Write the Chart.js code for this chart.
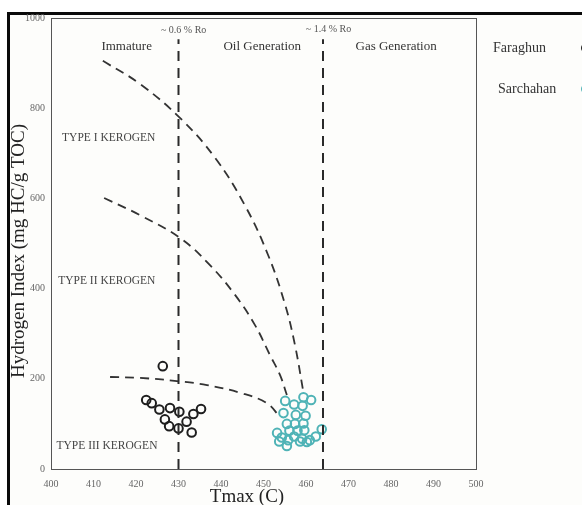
<!DOCTYPE html>
<html>
<head>
<meta charset="utf-8">
<script src="https://cdn.jsdelivr.net/npm/chart.js@4"></script>
<style>
  html, body { margin: 0; padding: 0; background: #ffffff; }
  #wrap { width: 582px; height: 505px; position: relative; }
  canvas { display: block; }
</style>
</head>
<body>
<div id="wrap"><canvas id="c" width="582" height="505"></canvas></div>
<script>
// ---- data ----
const seriesNames = ['Faraghun', 'Sarchahan'];
const faraghunTmax = [426.3, 422.4, 423.7, 425.5, 428.0, 430.2, 433.5, 435.3, 426.8, 427.8, 430.0, 431.9, 433.1];
const faraghunHI   = [228, 153, 146, 132, 135, 127, 122, 133, 110, 95, 90, 105, 81];
const sarchahanTmax = [455.1, 457.2, 459.4, 461.2, 459.2, 454.7, 457.6, 459.9, 455.5, 457.4, 459.4, 453.2, 456.1,
                       458.0, 459.6, 463.7, 454.3, 457.2, 459.1, 460.9, 462.3, 453.7, 455.5, 458.6, 460.2, 455.8];
const sarchahanHI   = [151, 143, 159, 153, 140, 124, 120, 118, 100, 100, 101, 80, 85,
                       85, 86, 88, 70, 72, 67, 64, 72, 61, 51, 61, 60, 64];

const typeITmax   = [412.2, 420.9, 430.4, 438.6, 445.6, 451.1, 455.1, 457.4, 459.3];
const typeIHI     = [905, 854, 778, 690, 585, 474, 364, 275, 175];
const typeIITmax  = [412.5, 420.9, 430.4, 437.4, 443.3, 448.0, 451.5, 453.9, 455.5];
const typeIIHI    = [601, 563, 512, 452, 386, 319, 253, 208, 164];
const typeIIITmax = [413.9, 420.9, 429.6, 436.7, 444.5, 450.8, 453.9];
const typeIIIHI   = [204, 202, 195, 186, 169, 146, 115];

const roTmax   = [430, 464];
const roLabels = ['~ 0.6 % Ro', '~ 1.4 % Ro'];
const zoneLabels = ['Immature', 'Oil Generation', 'Gas Generation'];
const kerogenLabels = ['TYPE I KEROGEN', 'TYPE II KEROGEN', 'TYPE III KEROGEN'];
const xTitle = 'Tmax (C)';
const yTitle = 'Hydrogen Index (mg HC/g TOC)';

// ---- helpers ----
const pts = (xs, ys) => xs.map((x, i) => ({ x: x, y: ys[i] }));
const SERIF = '"Liberation Serif", "DejaVu Serif", serif';
const dashStyle = { showLine: true, borderColor: '#333333', borderWidth: 1.8, borderDash: [9, 6],
                    pointRadius: 0, pointHoverRadius: 0, tension: 0.4, fill: false };

const datasets = [];
roTmax.forEach(function (t) {
  datasets.push(Object.assign({}, dashStyle, {
    label: 'ro', data: [{ x: t, y: 0 }, { x: t, y: 953 }], tension: 0,
    borderColor: '#2a2a2a', borderWidth: 2, borderDash: [10, 7]
  }));
});
datasets.push(Object.assign({}, dashStyle, { label: 'typeI', data: pts(typeITmax, typeIHI) }));
datasets.push(Object.assign({}, dashStyle, { label: 'typeII', data: pts(typeIITmax, typeIIHI) }));
datasets.push(Object.assign({}, dashStyle, { label: 'typeIII', data: pts(typeIIITmax, typeIIIHI) }));
datasets.push({ label: seriesNames[0], data: pts(faraghunTmax, faraghunHI), showLine: false,
  pointStyle: 'circle', pointRadius: 4.3, borderWidth: 2, borderColor: '#1e1e1e', backgroundColor: 'rgba(0,0,0,0)' });
datasets.push({ label: seriesNames[1], data: pts(sarchahanTmax, sarchahanHI), showLine: false,
  pointStyle: 'circle', pointRadius: 4.3, borderWidth: 2, borderColor: '#4fb3b6', backgroundColor: 'rgba(0,0,0,0)' });

const decor = {
  id: 'decor',
  beforeDraw(chart) {
    const ctx = chart.ctx;
    ctx.save();
    ctx.fillStyle = '#ffffff';
    ctx.fillRect(0, 0, chart.width, chart.height);
    ctx.fillStyle = '#fdfdfb';
    ctx.fillRect(9, 15, chart.width - 9, chart.height - 15);
    // outer black figure frame
    ctx.fillStyle = '#0a0a0a';
    ctx.fillRect(7, 12, chart.width - 7, 3);
    ctx.fillRect(7, 12, 3, chart.height - 12);
    ctx.restore();
  },
  afterDatasetsDraw(chart) {
    const ctx = chart.ctx, a = chart.chartArea;
    const xs = chart.scales.x, ys = chart.scales.y;
    ctx.save();
    // plot frame
    ctx.strokeStyle = '#555';
    ctx.lineWidth = 1;
    ctx.strokeRect(Math.round(a.left) + 0.5, Math.round(a.top) + 0.5,
                   Math.round(a.right - a.left), Math.round(a.bottom - a.top));
    ctx.textBaseline = 'middle';
    // Ro labels
    ctx.fillStyle = '#555';
    ctx.font = '10px ' + SERIF;
    ctx.textAlign = 'center';
    ctx.fillText(roLabels[0], xs.getPixelForValue(431.2), ys.getPixelForValue(973));
    ctx.fillText(roLabels[1], xs.getPixelForValue(465.3), ys.getPixelForValue(975));
    // zone labels
    ctx.fillStyle = '#333';
    ctx.font = '13px ' + SERIF;
    ctx.fillText(zoneLabels[0], xs.getPixelForValue(417.8), ys.getPixelForValue(937));
    ctx.fillText(zoneLabels[1], xs.getPixelForValue(449.7), ys.getPixelForValue(937));
    ctx.fillText(zoneLabels[2], xs.getPixelForValue(481.2), ys.getPixelForValue(937));
    // kerogen labels
    ctx.fillStyle = '#444';
    ctx.font = '11.5px ' + SERIF;
    ctx.textAlign = 'left';
    ctx.fillText(kerogenLabels[0], xs.getPixelForValue(402.6), ys.getPixelForValue(734));
    ctx.fillText(kerogenLabels[1], xs.getPixelForValue(401.7), ys.getPixelForValue(417));
    ctx.fillText(kerogenLabels[2], xs.getPixelForValue(401.3), ys.getPixelForValue(51));
    // axis titles
    ctx.fillStyle = '#222';
    ctx.font = '19px ' + SERIF;
    ctx.textAlign = 'center';
    ctx.fillText(xTitle, 247, 497);
    ctx.translate(19, 251);
    ctx.rotate(-Math.PI / 2);
    ctx.fillText(yTitle, 0, 0);
    ctx.restore();
    // legend on the right
    ctx.save();
    ctx.font = '14px ' + SERIF;
    ctx.textBaseline = 'middle';
    ctx.textAlign = 'left';
    const legendRows = [{ y: 48, x: 493 }, { y: 89, x: 498 }];
    [chart.data.datasets.length - 2, chart.data.datasets.length - 1].forEach(function (di, k) {
      const ds = chart.data.datasets[di];
      ctx.fillStyle = '#333';
      ctx.fillText(ds.label, legendRows[k].x, legendRows[k].y);
      ctx.strokeStyle = ds.borderColor;
      ctx.lineWidth = 2;
      ctx.beginPath();
      ctx.arc(586, legendRows[k].y, 4, 0, Math.PI * 2);
      ctx.stroke();
    });
    ctx.restore();
  }
};

new Chart(document.getElementById('c'), {
  type: 'scatter',
  data: { datasets: datasets },
  plugins: [decor],
  options: {
    responsive: false,
    animation: false,
    layout: { padding: { left: 0, top: 18, right: 106, bottom: 0 } },
    plugins: { legend: { display: false }, tooltip: { enabled: false } },
    scales: {
      x: {
        type: 'linear', min: 400, max: 500,
        grid: { display: false, drawTicks: false },
        border: { display: false },
        ticks: { stepSize: 10, padding: 9, color: '#666', font: { family: SERIF, size: 10 }, maxRotation: 0,
                 callback: function (v) { return String(v); } },
        afterFit(s) { s.height = 36; }
      },
      y: {
        type: 'linear', min: 0, max: 1000,
        grid: { display: false, drawTicks: false },
        border: { display: false },
        ticks: { stepSize: 200, padding: 6, color: '#666', font: { family: SERIF, size: 10 },
                 callback: function (v) { return String(v); } },
        afterFit(s) { s.width = 51; }
      }
    }
  }
});
</script>
</body>
</html>
